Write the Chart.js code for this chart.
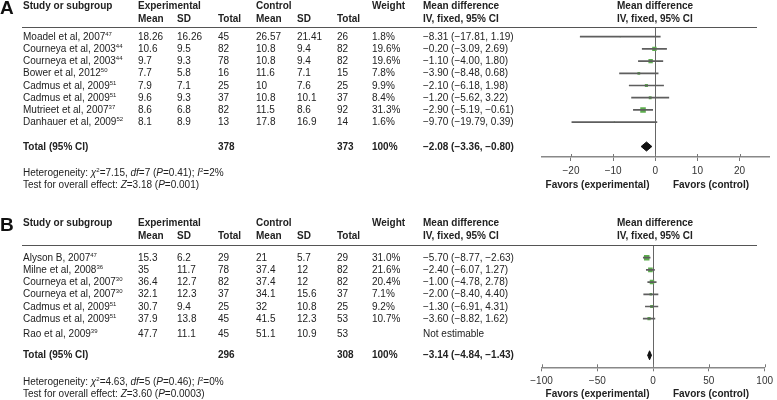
<!DOCTYPE html>
<html>
<head>
<meta charset="utf-8">
<script src="https://cdn.jsdelivr.net/npm/chart.js@4.4.1/dist/chart.umd.min.js"></script>
<style>
  body { margin: 0; background: #fff; }
  #wrap { position: relative; width: 777px; height: 400px; overflow: hidden;
          font-family: "Liberation Sans", Arial, sans-serif; font-size: 10px; color: #222; }
  .t { position: absolute; white-space: nowrap; line-height: 12px; }
  .b { font-weight: bold; }
  .c { transform: translateX(-50%); }
  .letter { font-size: 19px; font-weight: bold; line-height: 20px; color: #111; }
  .rule { position: absolute; height: 0; border-top: 1px solid #555; }
  sup { font-size: 6px; line-height: 0; vertical-align: 4px; }
  canvas { position: absolute; left: 0; }
</style>
</head>
<body>
<div id="wrap">
  <canvas id="forestA" width="777" height="200" style="top:0"></canvas>
  <canvas id="forestB" width="777" height="200" style="top:200px"></canvas>
</div>
<script>
// ---- Panel A data ----
const studiesA = ['Moadel et al, 2007', 'Courneya et al, 2003', 'Courneya et al, 2003', 'Bower et al, 2012',
                  'Cadmus et al, 2009', 'Cadmus et al, 2009', 'Mutrieet et al, 2007', 'Danhauer et al, 2009'];
const refsA = ['47', '44', '44', '50', '51', '51', '37', '52'];
const expMeanA = [18.26, 10.6, 9.7, 7.7, 7.9, 9.6, 8.6, 8.1];
const expSdA = [16.26, 9.5, 9.3, 5.8, 7.1, 9.3, 6.8, 8.9];
const expTotalA = [45, 82, 78, 16, 25, 37, 82, 13];
const ctlMeanA = [26.57, 10.8, 10.8, 11.6, 10, 10.8, 11.5, 17.8];
const ctlSdA = [21.41, 9.4, 9.4, 7.1, 7.6, 10.1, 8.6, 16.9];
const ctlTotalA = [26, 82, 82, 15, 25, 37, 92, 14];
const weightA = [1.8, 19.6, 19.6, 7.8, 9.9, 8.4, 31.3, 1.6];
const mdA = [-8.31, -0.20, -1.10, -3.90, -2.10, -1.20, -2.90, -9.70];
const loA = [-17.81, -3.09, -4.00, -8.48, -6.18, -5.62, -5.19, -19.79];
const hiA = [1.19, 2.69, 1.80, 0.68, 1.98, 3.22, -0.61, 0.39];
const totalNA = [378, 373];
const totalMdA = [-2.08, -3.36, -0.80];   // estimate, lower, upper
const hetA = ['7.15', '7', '0.41', '2'];   // chi2, df, P, I2
const testA = ['3.18', '0.001'];           // Z, P
const ticksA = [-20, -10, 0, 10, 20];
const tickLabelsA = ['\u221220', '\u221210', '0', '10', '20'];

// ---- Panel B data ----
const studiesB = ['Alyson B, 2007', 'Milne et al, 2008', 'Courneya et al, 2007', 'Courneya et al, 2007',
                  'Cadmus et al, 2009', 'Cadmus et al, 2009', 'Rao et al, 2009'];
const refsB = ['47', '36', '30', '30', '51', '51', '39'];
const expMeanB = [15.3, 35, 36.4, 32.1, 30.7, 37.9, 47.7];
const expSdB = [6.2, 11.7, 12.7, 12.3, 9.4, 13.8, 11.1];
const expTotalB = [29, 78, 82, 37, 25, 45, 45];
const ctlMeanB = [21, 37.4, 37.4, 34.1, 32, 41.5, 51.1];
const ctlSdB = [5.7, 12, 12, 15.6, 10.8, 12.3, 10.9];
const ctlTotalB = [29, 82, 82, 37, 25, 53, 53];
const weightB = [31.0, 21.6, 20.4, 7.1, 9.2, 10.7, null];
const mdB = [-5.70, -2.40, -1.00, -2.00, -1.30, -3.60, null];
const loB = [-8.77, -6.07, -4.78, -8.40, -6.91, -8.82, null];
const hiB = [-2.63, 1.27, 2.78, 4.40, 4.31, 1.62, null];
const totalNB = [296, 308];
const totalMdB = [-3.14, -4.84, -1.43];
const hetB = ['4.63', '5', '0.46', '0'];
const testB = ['3.60', '0.0003'];
const ticksB = [-100, -50, 0, 50, 100];
const tickLabelsB = ['\u2212100', '\u221250', '0', '50', '100'];

const GREEN = '#5dae4e';
const FONT = '"Liberation Sans", Arial, sans-serif';
const colX = [23, 138, 177, 218, 256, 297, 337, 372, 423];
const plotHeadX = 617;

const wrap = document.getElementById('wrap');

function txt(x, y, html, cls) {
  const d = document.createElement('div');
  d.className = 't ' + (cls || '');
  d.style.left = x + 'px';
  d.style.top = (y - 6) + 'px';
  d.innerHTML = html;
  wrap.appendChild(d);
}

function fmt(v) {
  return (v < 0 ? '\u2212' : '') + Math.abs(v).toFixed(2);
}

function mdText(m, l, h) {
  return fmt(m) + ' (' + fmt(l) + ', ' + fmt(h) + ')';
}

// draws the table part of one panel as html text
function drawTable(p) {
  const L = p.layout;
  const letter = document.createElement('div');
  letter.className = 't letter';
  letter.style.left = '0px';
  letter.style.top = (L.head + 2 - 10) + 'px';
  letter.textContent = p.letter;
  wrap.appendChild(letter);

  txt(colX[0], L.head, 'Study or subgroup', 'b');
  txt(colX[1], L.head, 'Experimental', 'b');
  txt(colX[4], L.head, 'Control', 'b');
  txt(colX[7], L.head, 'Weight', 'b');
  txt(colX[8], L.head, 'Mean difference', 'b');
  txt(plotHeadX, L.head, 'Mean difference', 'b');
  const sub = ['Mean', 'SD', 'Total', 'Mean', 'SD', 'Total'];
  sub.forEach((s, k) => txt(colX[k + 1], L.head + 13, s, 'b'));
  txt(colX[8], L.head + 13, 'IV, fixed, 95% CI', 'b');
  txt(plotHeadX, L.head + 13, 'IV, fixed, 95% CI', 'b');

  const r = document.createElement('div');
  r.className = 'rule';
  r.style.left = '22px';
  r.style.width = '735px';
  r.style.top = L.rule + 'px';
  wrap.appendChild(r);

  p.studies.forEach((s, i) => {
    const y = L.row0 + L.step * i + (p.md[i] === null ? 3 : 0);
    txt(colX[0], y, s + '<sup>' + p.refs[i] + '</sup>');
    txt(colX[1], y, String(p.expMean[i]));
    txt(colX[2], y, String(p.expSd[i]));
    txt(colX[3], y, String(p.expTotal[i]));
    txt(colX[4], y, String(p.ctlMean[i]));
    txt(colX[5], y, String(p.ctlSd[i]));
    txt(colX[6], y, String(p.ctlTotal[i]));
    if (p.md[i] === null) {
      txt(colX[8], y, 'Not estimable');
    } else {
      txt(colX[7], y, p.weight[i].toFixed(1) + '%');
      txt(colX[8], y, mdText(p.md[i], p.lo[i], p.hi[i]));
    }
  });

  const ty = L.row0 + L.step * L.totalRow;
  txt(colX[0], ty, 'Total (95% CI)', 'b');
  txt(colX[3], ty, String(p.totalN[0]), 'b');
  txt(colX[6], ty, String(p.totalN[1]), 'b');
  txt(colX[7], ty, '100%', 'b');
  txt(colX[8], ty, mdText(p.totalMd[0], p.totalMd[1], p.totalMd[2]), 'b');

  txt(colX[0], L.het, 'Heterogeneity: <i>\u03c7</i><sup>2</sup>=' + p.het[0] + ', <i>df</i>=' + p.het[1] +
      ' (<i>P</i>=' + p.het[2] + '); <i>I</i><sup>2</sup>=' + p.het[3] + '%');
  txt(colX[0], L.het + 12, 'Test for overall effect: <i>Z</i>=' + p.test[0] + ' (<i>P</i>=' + p.test[1] + ')');

  txt(597.5, L.het + 12, 'Favors (experimental)', 'b c');
  txt(711, L.het + 12, 'Favors (control)', 'b c');
}

// short tick marks above the x axis line, so ticks cross the axis
const crossTicks = {
  id: 'crossTicks',
  afterDraw(chart) {
    const s = chart.scales.x;
    const ctx = chart.ctx;
    ctx.save();
    ctx.strokeStyle = '#777';
    ctx.lineWidth = 1;
    s.ticks.forEach(t => {
      const px = Math.round(s.getPixelForValue(t.value)) + 0.5;
      ctx.beginPath();
      ctx.moveTo(px, s.top - 3);
      ctx.lineTo(px, s.top);
      ctx.stroke();
    });
    ctx.restore();
  }
};

// draws the forest plot of one panel with Chart.js
function drawForest(p) {
  const L = p.layout;
  const off = p.top;
  const ci = [], pts = [], radii = [];
  p.md.forEach((m, i) => {
    if (m === null) return;
    ci.push({ x: [p.lo[i], p.hi[i]], y: i });
    pts.push({ x: m, y: i });
    radii.push(0.7 * Math.sqrt(p.weight[i]));
  });
  const tr = L.totalRow;
  const half = 0.37;
  const diamond = [
    { x: p.totalMd[1], y: tr }, { x: p.totalMd[0], y: tr - half },
    { x: p.totalMd[2], y: tr }, { x: p.totalMd[0], y: tr + half },
    { x: p.totalMd[1], y: tr }
  ];

  new Chart(document.getElementById(p.canvas).getContext('2d'), {
    type: 'scatter',
    data: {
      datasets: [
        {
          type: 'bar', indexAxis: 'y', data: ci,
          backgroundColor: '#5e5e5e', borderWidth: 0, barThickness: 1, grouped: false
        },
        {
          type: 'scatter', data: pts, pointStyle: 'rect',
          pointRadius: radii, pointHoverRadius: radii,
          backgroundColor: GREEN, borderColor: GREEN, borderWidth: 0
        },
        {
          type: 'line', data: diamond, borderColor: '#111', borderWidth: 1,
          backgroundColor: '#111', fill: 'shape', pointRadius: 0, tension: 0
        }
      ]
    },
    plugins: [crossTicks],
    options: {
      responsive: false,
      animation: false,
      events: [],
      layout: {
        autoPadding: false,
        padding: { left: 541.5, right: 8, top: L.rule - off, bottom: 200 - (L.axis - off) - 20 }
      },
      plugins: { legend: { display: false }, tooltip: { enabled: false } },
      scales: {
        x: {
          type: 'linear', min: p.xMin, max: p.xMax,
          afterBuildTicks: s => { s.ticks = p.ticks.map(v => ({ value: v })); },
          afterFit: s => { s.height = 20; },
          ticks: {
            autoSkip: false, maxRotation: 0, padding: 4, color: '#333',
            font: { family: FONT, size: 10 },
            callback: (v, i) => p.tickLabels[i]
          },
          grid: {
            drawOnChartArea: true, tickLength: 4, tickColor: '#777', tickWidth: 1,
            color: c => (c.tick && c.tick.value === 0 ? '#666' : 'rgba(0,0,0,0)'),
            lineWidth: 1
          },
          border: { display: true, color: '#888', width: 1.5 }
        },
        y: {
          type: 'linear', reverse: true, offset: false, display: false,
          min: (L.rule - L.row0) / L.step,
          max: (L.axis - L.row0) / L.step
        }
      }
    }
  });
}

const panelA = {
  letter: 'A', canvas: 'forestA', top: 0,
  layout: { head: 6, rule: 27, row0: 36.7, step: 12.2, totalRow: 9, het: 173, axis: 157 },
  studies: studiesA, refs: refsA, expMean: expMeanA, expSd: expSdA, expTotal: expTotalA,
  ctlMean: ctlMeanA, ctlSd: ctlSdA, ctlTotal: ctlTotalA, weight: weightA,
  md: mdA, lo: loA, hi: hiA, totalN: totalNA, totalMd: totalMdA, het: hetA, test: testA,
  xMin: -27, xMax: 27, ticks: ticksA, tickLabels: tickLabelsA
};
const panelB = {
  letter: 'B', canvas: 'forestB', top: 200,
  layout: { head: 223, rule: 245, row0: 257.7, step: 12.2, totalRow: 8, het: 381.5, axis: 367.3 },
  studies: studiesB, refs: refsB, expMean: expMeanB, expSd: expSdB, expTotal: expTotalB,
  ctlMean: ctlMeanB, ctlSd: ctlSdB, ctlTotal: ctlTotalB, weight: weightB,
  md: mdB, lo: loB, hi: hiB, totalN: totalNB, totalMd: totalMdB, het: hetB, test: testB,
  xMin: -100, xMax: 100, ticks: ticksB, tickLabels: tickLabelsB
};

[panelA, panelB].forEach(p => { drawTable(p); drawForest(p); });
</script>
</body>
</html>
